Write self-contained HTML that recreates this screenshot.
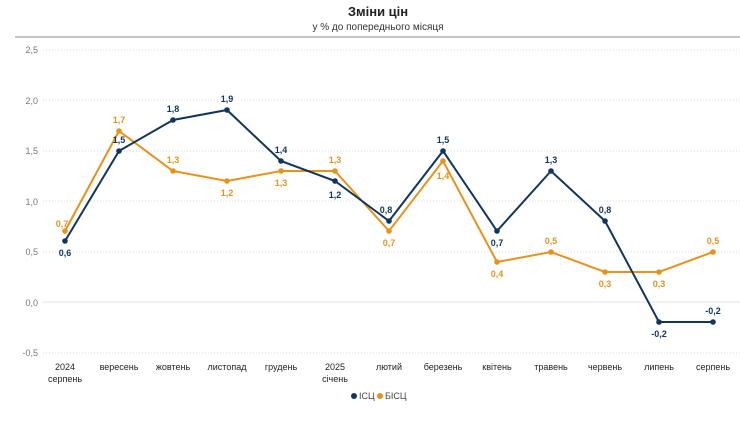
<!DOCTYPE html><html><head><meta charset="utf-8"><style>body{margin:0;background:#fff}svg{display:block;font-family:"Liberation Sans","DejaVu Sans",sans-serif}</style></head><body>
<svg width="740" height="421" viewBox="0 0 740 421">
<text x="378" y="16" text-anchor="middle" font-size="13" font-weight="bold" fill="#222">Зміни цін</text>
<text x="378" y="30" text-anchor="middle" font-size="10" fill="#333">у % до попереднього місяця</text>
<line x1="15" y1="37" x2="740" y2="37" stroke="#888" stroke-width="1"/>
<g stroke="#ddd" stroke-dasharray="1,2">
<line x1="43" y1="50" x2="740" y2="50"/><line x1="43" y1="100" x2="740" y2="100"/><line x1="43" y1="151" x2="740" y2="151"/><line x1="43" y1="201" x2="740" y2="201"/><line x1="43" y1="252" x2="740" y2="252"/><line x1="43" y1="353" x2="740" y2="353"/></g>
<line x1="43" y1="302" x2="740" y2="302" stroke="#dde6f0"/>
<g font-size="9" fill="#777" text-anchor="end"><text x="38" y="53">2,5</text><text x="38" y="104">2,0</text><text x="38" y="154">1,5</text><text x="38" y="205">1,0</text><text x="38" y="255">0,5</text><text x="38" y="306">0,0</text><text x="38" y="356">-0,5</text></g>
<g font-size="9" fill="#222" text-anchor="middle">
<text x="65" y="370">2024</text><text x="65" y="382">серпень</text><text x="119" y="370">вересень</text><text x="173" y="370">жовтень</text><text x="227" y="370">листопад</text><text x="281" y="370">грудень</text><text x="335" y="370">2025</text><text x="335" y="382">січень</text><text x="389" y="370">лютий</text><text x="443" y="370">березень</text><text x="497" y="370">квітень</text><text x="551" y="370">травень</text><text x="605" y="370">червень</text><text x="659" y="370">липень</text><text x="713" y="370">серпень</text></g>
<polyline fill="none" stroke="#e6931e" stroke-width="2" points="65,231 119,131 173,171 227,181 281,171 335,171 389,231 443,161 497,262 551,252 605,272 659,272 713,252"/>
<g fill="#e6931e"><circle cx="65" cy="231" r="2.8"/><circle cx="119" cy="131" r="2.8"/><circle cx="173" cy="171" r="2.8"/><circle cx="227" cy="181" r="2.8"/><circle cx="281" cy="171" r="2.8"/><circle cx="335" cy="171" r="2.8"/><circle cx="389" cy="231" r="2.8"/><circle cx="443" cy="161" r="2.8"/><circle cx="497" cy="262" r="2.8"/><circle cx="551" cy="252" r="2.8"/><circle cx="605" cy="272" r="2.8"/><circle cx="659" cy="272" r="2.8"/><circle cx="713" cy="252" r="2.8"/></g>
<polyline fill="none" stroke="#12355b" stroke-width="2" points="65,241 119,151 173,120 227,110 281,161 335,181 389,221 443,151 497,231 551,171 605,221 659,322 713,322"/>
<g fill="#12355b"><circle cx="65" cy="241" r="2.8"/><circle cx="119" cy="151" r="2.8"/><circle cx="173" cy="120" r="2.8"/><circle cx="227" cy="110" r="2.8"/><circle cx="281" cy="161" r="2.8"/><circle cx="335" cy="181" r="2.8"/><circle cx="389" cy="221" r="2.8"/><circle cx="443" cy="151" r="2.8"/><circle cx="497" cy="231" r="2.8"/><circle cx="551" cy="171" r="2.8"/><circle cx="605" cy="221" r="2.8"/><circle cx="659" cy="322" r="2.8"/><circle cx="713" cy="322" r="2.8"/></g>
<g font-size="9" font-weight="bold" fill="#e6931e" text-anchor="middle">
<text x="62" y="227">0,7</text><text x="119" y="123">1,7</text><text x="173" y="163">1,3</text><text x="227" y="196">1,2</text><text x="281" y="186">1,3</text><text x="335" y="163">1,3</text><text x="389" y="246">0,7</text><text x="443" y="179">1,4</text><text x="497" y="277">0,4</text><text x="551" y="244">0,5</text><text x="605" y="287">0,3</text><text x="659" y="287">0,3</text><text x="713" y="244">0,5</text></g>
<g font-size="9" font-weight="bold" fill="#12355b" text-anchor="middle">
<text x="65" y="256">0,6</text><text x="119" y="143">1,5</text><text x="173" y="112">1,8</text><text x="227" y="102">1,9</text><text x="281" y="153">1,4</text><text x="335" y="198">1,2</text><text x="386" y="213">0,8</text><text x="443" y="143">1,5</text><text x="497" y="246">0,7</text><text x="551" y="163">1,3</text><text x="605" y="213">0,8</text><text x="659" y="337">-0,2</text><text x="713" y="314">-0,2</text></g>
<circle cx="354" cy="396" r="3" fill="#12355b"/><text x="359" y="399" font-size="9" fill="#444">ІСЦ</text>
<circle cx="380" cy="396" r="3" fill="#e6931e"/><text x="385" y="399" font-size="9" fill="#444">БІСЦ</text>
</svg></body></html>
